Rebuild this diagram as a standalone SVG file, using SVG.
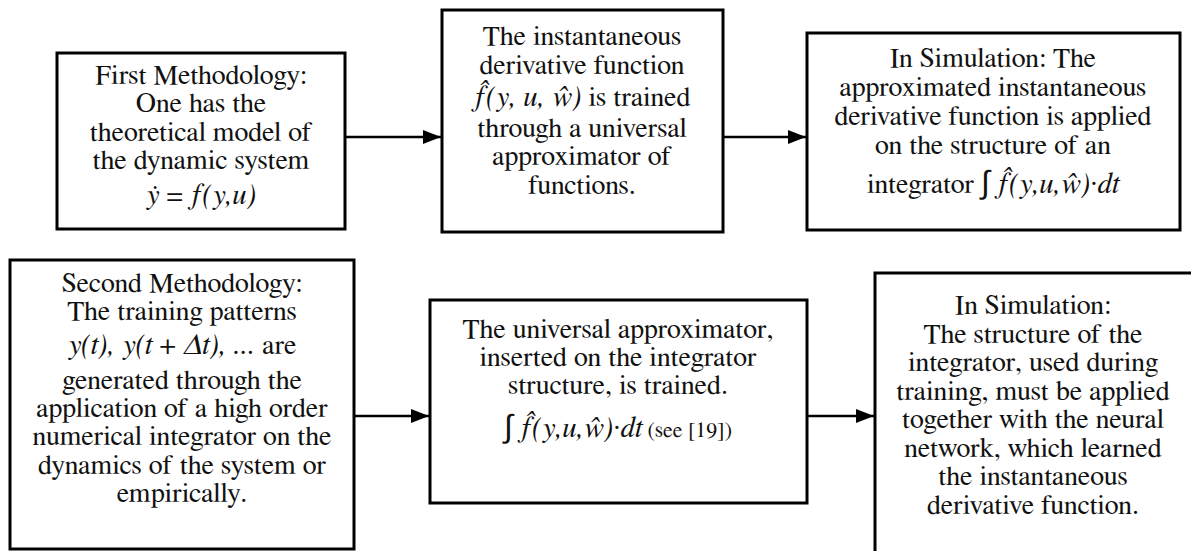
<svg xmlns="http://www.w3.org/2000/svg" width="1191" height="551" viewBox="0 0 1191 551">
  <defs>
    <marker id="arrow" markerUnits="userSpaceOnUse" viewBox="0 0 18 14" refX="18" refY="7" markerWidth="18" markerHeight="14" orient="auto">
      <path d="M0,0 L18,7 L0,14 Z" fill="#000"/>
    </marker>
    <style>
      .box { fill: #fff; stroke: #000; stroke-width: 3; }
      .t { font-family: 'Nimbus Roman', FreeSerif, 'Liberation Serif', 'DejaVu Serif', serif; font-size: 28px; fill: #111; text-anchor: middle; }
      .m { font-style: italic; font-size: 29px; }
      .up { font-style: normal; }
      .int { font-family: 'DejaVu Sans', sans-serif; font-style: normal; font-size: 32px; font-weight: 200; }
      .sm { font-style: normal; font-size: 22px; }
      .conn line { stroke: #000; stroke-width: 2.5; marker-end: url(#arrow); }
    </style>
  </defs>
  <rect width="1191" height="551" fill="#fff"/>

  <!-- top row -->
  <g id="first-methodology">
    <rect class="box" x="57" y="53" width="288" height="176"/>
    <text class="t" x="201" y="84">First Methodology:</text>
    <text class="t" x="201" y="112">One has the</text>
    <text class="t" x="201" y="141">theoretical model of</text>
    <text class="t" x="201" y="169">the dynamic system</text>
    <text class="t" x="201" y="204"><tspan class="m">ẏ</tspan><tspan class="m up"> = </tspan><tspan class="m">f(y,u)</tspan></text>
  </g>

  <g id="derivative-training">
    <rect class="box" x="442" y="10" width="281" height="222"/>
    <text class="t" x="582" y="45">The instantaneous</text>
    <text class="t" x="582" y="74">derivative function</text>
    <text class="t" x="582" y="106"><tspan class="m">f&#x302;(y, u, ŵ)</tspan> is trained</text>
    <text class="t" x="582" y="137">through a universal</text>
    <text class="t" x="582" y="165">approximator of</text>
    <text class="t" x="582" y="194">functions.</text>
  </g>

  <g id="simulation-1">
    <rect class="box" x="807" y="33" width="373" height="197"/>
    <text class="t" x="993" y="67">In Simulation: The</text>
    <text class="t" x="993" y="96">approximated instantaneous</text>
    <text class="t" x="993" y="125">derivative function is applied</text>
    <text class="t" x="993" y="154">on the structure of an</text>
    <text class="t" x="993" y="193">integrator <tspan class="int">∫</tspan> <tspan class="m">f&#x302;(y,u,ŵ)</tspan><tspan class="m up">·</tspan><tspan class="m">dt</tspan></text>
  </g>

  <!-- bottom row -->
  <g id="second-methodology">
    <rect class="box" x="10" y="260" width="344" height="289"/>
    <text class="t" x="182" y="292">Second Methodology:</text>
    <text class="t" x="182" y="320">The training patterns</text>
    <text class="t" x="182" y="354"><tspan class="m">y(t), y(t</tspan><tspan class="m up"> + </tspan><tspan class="m">Δt), ...</tspan>  are</text>
    <text class="t" x="182" y="389">generated through the</text>
    <text class="t" x="182" y="417">application of a high order</text>
    <text class="t" x="182" y="445">numerical integrator on the</text>
    <text class="t" x="182" y="474">dynamics of the system or</text>
    <text class="t" x="182" y="502">empirically.</text>
  </g>

  <g id="integrator-training">
    <rect class="box" x="430" y="300" width="377" height="203"/>
    <text class="t" x="618" y="338">The universal approximator,</text>
    <text class="t" x="618" y="366">inserted on the integrator</text>
    <text class="t" x="618" y="394">structure, is trained.</text>
    <text class="t" x="618" y="437"><tspan class="int">∫</tspan> <tspan class="m">f&#x302;(y,u,ŵ)</tspan><tspan class="m up">·</tspan><tspan class="m">dt</tspan><tspan class="sm"> (see [19])</tspan></text>
  </g>

  <g id="simulation-2">
    <rect class="box" x="875" y="273" width="330" height="300"/>
    <text class="t" x="1033" y="314">In Simulation:</text>
    <text class="t" x="1033" y="343">The structure of the</text>
    <text class="t" x="1033" y="371">integrator, used during</text>
    <text class="t" x="1033" y="400">training, must be applied</text>
    <text class="t" x="1033" y="428">together with the neural</text>
    <text class="t" x="1033" y="457">network, which learned</text>
    <text class="t" x="1033" y="485">the instantaneous</text>
    <text class="t" x="1033" y="514">derivative function.</text>
  </g>

  <!-- connectors -->
  <g id="connectors" class="conn">
    <line x1="345" y1="137" x2="441" y2="137"/>
    <line x1="723" y1="137" x2="806" y2="137"/>
    <line x1="354" y1="416" x2="429" y2="416"/>
    <line x1="807" y1="416" x2="874" y2="416"/>
  </g>
</svg>
